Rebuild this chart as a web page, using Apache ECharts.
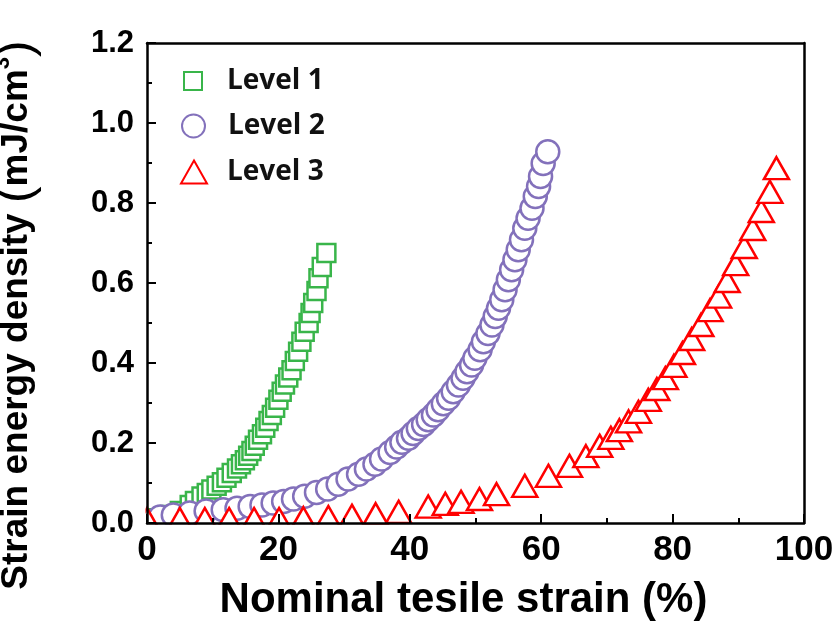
<!DOCTYPE html>
<html>
<head>
<meta charset="utf-8">
<script src="https://cdn.jsdelivr.net/npm/echarts@6/dist/echarts.min.js"></script>
<style>
html,body{margin:0;padding:0;background:#fff;}
#chart{width:838px;height:624px;}
</style>
</head>
<body>
<div id="chart"></div>
<script>
// ---- data ----
const seriesNames = ['Level 1', 'Level 2', 'Level 3'];

const level1X = [1.8, 3.5, 5.0, 6.5, 7.3, 8.3, 9.1, 9.8, 10.6, 11.4, 12.1, 12.9, 13.7, 14.3, 14.9, 15.4, 15.9, 16.4, 16.9, 17.5, 18.0, 18.5, 19.0, 19.5, 20.0, 20.5, 21.0, 21.5, 22.0, 22.5, 23.0, 23.5, 24.0, 24.6, 24.9, 25.3, 25.8, 26.1, 26.6, 27.3];
const level1Y = [0.012, 0.020, 0.030, 0.045, 0.055, 0.066, 0.075, 0.084, 0.093, 0.102, 0.113, 0.125, 0.136, 0.147, 0.157, 0.168, 0.180, 0.193, 0.208, 0.222, 0.238, 0.255, 0.270, 0.288, 0.308, 0.328, 0.346, 0.364, 0.382, 0.405, 0.428, 0.453, 0.478, 0.500, 0.525, 0.550, 0.580, 0.612, 0.640, 0.675];

const level2X = [2.0, 4.0, 6.5, 9.0, 11.6, 13.7, 15.7, 17.5, 19.2, 20.8, 22.3, 24.0, 25.8, 27.5, 29.1, 30.6, 32.2, 33.4, 34.7, 35.7, 37.0, 38.0, 38.8, 39.8, 40.5, 41.3, 42.1, 42.8, 43.6, 44.3, 45.1, 45.9, 46.6, 47.4, 48.1, 48.7, 49.4, 49.9, 50.7, 51.2, 51.9, 52.5, 53.0, 53.5, 54.0, 54.5, 55.0, 55.5, 56.0, 56.5, 57.0, 57.5, 58.0, 58.6, 59.1, 59.6, 59.9, 60.3, 61.0];
const level2Y = [0.015, 0.020, 0.025, 0.030, 0.033, 0.037, 0.041, 0.045, 0.050, 0.054, 0.060, 0.067, 0.076, 0.085, 0.097, 0.110, 0.122, 0.135, 0.147, 0.160, 0.176, 0.190, 0.202, 0.212, 0.224, 0.236, 0.246, 0.258, 0.270, 0.283, 0.298, 0.312, 0.328, 0.345, 0.362, 0.378, 0.395, 0.412, 0.433, 0.453, 0.474, 0.495, 0.516, 0.537, 0.558, 0.583, 0.608, 0.633, 0.658, 0.683, 0.708, 0.737, 0.762, 0.787, 0.816, 0.841, 0.866, 0.899, 0.928];

const level3X = [0, 5.0, 8.8, 12.5, 16.3, 20.1, 23.8, 27.6, 31.2, 34.8, 38.3, 42.8, 45.4, 47.8, 50.6, 53.2, 57.5, 61.1, 64.3, 66.8, 68.9, 70.6, 71.9, 73.3, 74.8, 76.3, 77.6, 78.9, 80.2, 81.5, 82.9, 84.3, 85.7, 87.0, 88.3, 89.6, 90.9, 92.2, 93.5, 94.8, 95.8];
const level3Y = [0, 0, 0, 0, 0, 0, 0.002, 0.005, 0.008, 0.012, 0.018, 0.031, 0.038, 0.043, 0.050, 0.062, 0.083, 0.108, 0.133, 0.157, 0.183, 0.203, 0.222, 0.244, 0.268, 0.298, 0.325, 0.352, 0.383, 0.415, 0.450, 0.485, 0.522, 0.556, 0.595, 0.637, 0.680, 0.725, 0.770, 0.818, 0.877];

const xTicks = [0, 20, 40, 60, 80, 100];
const yTicks = [0.0, 0.2, 0.4, 0.6, 0.8, 1.0, 1.2];

const colors = ['#39b54a', '#8371bb', '#ff0000'];

function zip(xs, ys) { return xs.map((x, i) => [x, ys[i]]); }

const chart = echarts.init(document.getElementById('chart'), null, {renderer: 'canvas'});

const G = {left: 147, right: 34, top: 43, bottom: 101};
const lineStyle = {color: '#000', width: 2.5};
const tickFont = 'Liberation Sans, Arial, sans-serif';
const legendText = {fontFamily: 'Open Sans', fontWeight: 'bold', fontSize: 28, color: '#111'};

const option = {
  backgroundColor: '#fff',
  animation: false,
  grid: {left: G.left, right: G.right, top: G.top, bottom: G.bottom, containLabel: false, outerBoundsMode: 'none'},
  legend: [
    {data: [seriesNames[0]], left: 178, top: 62, itemWidth: 18, itemHeight: 18, z: 4,
     textStyle: Object.assign({}, legendText, {padding: [0, 0, 8, 20]})},
    {data: [seriesNames[1]], left: 176, top: 107, itemWidth: 23, itemHeight: 23, z: 4,
     textStyle: Object.assign({}, legendText, {padding: [0, 0, 8, 18]})},
    {data: [seriesNames[2]], left: 175, top: 153, itemWidth: 26, itemHeight: 23, z: 4,
     textStyle: Object.assign({}, legendText, {padding: [0, 0, 6, 15]})}
  ],
  graphic: [
    {type: 'rect', shape: {x: 0, y: 524.5, width: 838, height: 100}, style: {fill: '#fff'}, z: 5, silent: true},
    {type: 'rect', shape: {x: 0, y: 0, width: 145.5, height: 624}, style: {fill: '#fff'}, z: 5, silent: true},
    {type: 'rect', shape: {x: 805.5, y: 0, width: 40, height: 624}, style: {fill: '#fff'}, z: 5, silent: true},
    {type: 'rect', shape: {x: 0, y: 0, width: 838, height: 41.5}, style: {fill: '#fff'}, z: 5, silent: true}
  ],
  xAxis: [
    {
      type: 'value', min: 0, max: 100, interval: 20, position: 'bottom', z: 10,
      axisLine: {show: true, onZero: false, lineStyle: lineStyle},
      axisTick: {show: true, inside: true, length: 9, lineStyle: {color: '#000', width: 2}},
      minorTick: {show: true, splitNumber: 2, length: 5, lineStyle: {color: '#000', width: 2}},
      splitLine: {show: false},
      axisLabel: {
        margin: 10, color: '#000', fontFamily: tickFont, fontWeight: 'bold', fontSize: 35,
        formatter: v => (xTicks.indexOf(v) >= 0 ? String(v) : '')
      },
      name: 'Nominal tesile strain (%)', nameLocation: 'middle', nameGap: 56,
      nameTextStyle: {fontFamily: tickFont, fontWeight: 'bold', fontSize: 42, color: '#000', padding: [0, 24, 0, 0]}
    },
    {
      type: 'value', min: 0, max: 100, interval: 20, position: 'top', z: 10,
      axisLine: {show: true, onZero: false, lineStyle: lineStyle},
      axisTick: {show: false}, axisLabel: {show: false}, splitLine: {show: false}
    }
  ],
  yAxis: [
    {
      type: 'value', min: 0, max: 1.2, interval: 0.2, position: 'left', z: 10,
      axisLine: {show: true, onZero: false, lineStyle: lineStyle},
      axisTick: {show: true, inside: true, length: 9, lineStyle: {color: '#000', width: 2}},
      minorTick: {show: true, splitNumber: 2, length: 5, lineStyle: {color: '#000', width: 2}},
      splitLine: {show: false},
      axisLabel: {
        margin: 13, color: '#000', fontFamily: tickFont, fontWeight: 'bold', fontSize: 31,
        formatter: v => v.toFixed(1)
      },
      name: '{t|Strain energy density }{p|(}{t|mJ/cm}{s|3}{p|)}',
      nameLocation: 'middle', nameGap: 105,
      nameTextStyle: {
        color: '#000', padding: [0, 64, 0, 0],
        rich: {
          t: {fontFamily: tickFont, fontWeight: 'bold', fontSize: 37, color: '#000'},
          p: {fontFamily: tickFont, fontWeight: 'normal', fontSize: 50, color: '#000'},
          s: {fontFamily: tickFont, fontWeight: 'bold', fontSize: 22, color: '#000', verticalAlign: 'top', lineHeight: 50}
        }
      }
    },
    {
      type: 'value', min: 0, max: 1.2, interval: 0.2, position: 'right', z: 10,
      axisLine: {show: true, onZero: false, lineStyle: lineStyle},
      axisTick: {show: false}, axisLabel: {show: false}, splitLine: {show: false}
    }
  ],
  series: [
    {
      name: seriesNames[0], type: 'scatter', data: zip(level1X, level1Y),
      symbol: 'rect', symbolSize: 18, z: 2,
      itemStyle: {color: '#fff', borderColor: colors[0], borderWidth: 2.5, opacity: 1}
    },
    {
      name: seriesNames[1], type: 'scatter', data: zip(level2X, level2Y),
      symbol: 'circle', symbolSize: 23, z: 2,
      itemStyle: {color: '#fff', borderColor: colors[1], borderWidth: 2.5, opacity: 1}
    },
    {
      name: seriesNames[2], type: 'scatter', data: zip(level3X, level3Y),
      symbol: 'triangle', symbolSize: [25, 22], symbolOffset: [0, -4], z: 2,
      itemStyle: {color: '#fff', borderColor: colors[2], borderWidth: 2.5, opacity: 1}
    }
  ]
};
chart.setOption(option);
</script>
</body>
</html>
